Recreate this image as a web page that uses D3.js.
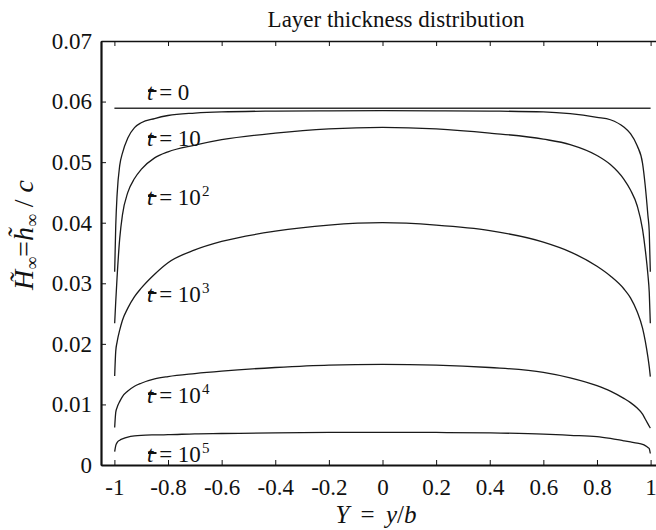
<!DOCTYPE html>
<html>
<head>
<meta charset="utf-8">
<script src="https://cdn.jsdelivr.net/npm/d3@7"></script>
<style>
  html, body { margin: 0; padding: 0; background: #fff; }
  svg { display: block; }
  svg text { font-family: "Liberation Serif", "DejaVu Serif", serif; }
</style>
</head>
<body>
<svg id="chart" width="656" height="530"></svg>
<script>
// Spanwise coordinate Y = y/b at which each thickness profile is sampled
const spanY = [-0.999, -0.995, -0.99, -0.98, -0.97, -0.95, -0.925, -0.9, -0.85, -0.8, -0.7, -0.6, -0.4, -0.2, 0,
               0.2, 0.4, 0.6, 0.7, 0.8, 0.85, 0.9, 0.925, 0.95, 0.97, 0.98, 0.99, 0.995, 0.999];

// Non-dimensional layer thickness H = h/c for each time t
const thicknessT10 = [0.0319, 0.0395, 0.0446, 0.0495, 0.0515, 0.0540, 0.0557, 0.0565, 0.0572, 0.0577, 0.0581, 0.0583, 0.05843, 0.05848, 0.0585,
                      0.05848, 0.05843, 0.0583, 0.0580, 0.0574, 0.0570, 0.0558, 0.0547, 0.0527, 0.0498, 0.0461, 0.0412, 0.0385, 0.0319];
const thicknessT1e2 = [0.0234, 0.0270, 0.0310, 0.0375, 0.0413, 0.0450, 0.0473, 0.0488, 0.0507, 0.0517, 0.0528, 0.0537, 0.0548, 0.0555, 0.05575,
                       0.0555, 0.0548, 0.0538, 0.0529, 0.0511, 0.0496, 0.0472, 0.0454, 0.0428, 0.0389, 0.0356, 0.0314, 0.0285, 0.0234];
const thicknessT1e3 = [0.0147, 0.0188, 0.0203, 0.0223, 0.0239, 0.0259, 0.0278, 0.0292, 0.0315, 0.0334, 0.0355, 0.0369, 0.0386, 0.0396, 0.0400,
                       0.0396, 0.0387, 0.0368, 0.0352, 0.0328, 0.0312, 0.0291, 0.0276, 0.0253, 0.0226, 0.0205, 0.0178, 0.0162, 0.0146];
const thicknessT1e4 = [0.0062, 0.0087, 0.0095, 0.0105, 0.0113, 0.0122, 0.0130, 0.0135, 0.0142, 0.0146, 0.0151, 0.0155, 0.0161, 0.0165, 0.0166,
                       0.0165, 0.0161, 0.0153, 0.0144, 0.0131, 0.0122, 0.0110, 0.0103, 0.0094, 0.0084, 0.0076, 0.0068, 0.0064, 0.0061];
const thicknessT1e5 = [0.0022, 0.0032, 0.0037, 0.0041, 0.0043, 0.0046, 0.0048, 0.0049, 0.00497, 0.0050, 0.00515, 0.0052, 0.0053, 0.00537, 0.0054,
                       0.00537, 0.0053, 0.0051, 0.0049, 0.0047, 0.0044, 0.0040, 0.0038, 0.0036, 0.0034, 0.0032, 0.0029, 0.0027, 0.0019];

// Initial (t = 0) uniform thickness across the full span
const initialSpan = [-1, 1];
const initialThickness = [0.0589, 0.0589];

// Curve labels: base text and power of ten (null = none)
const labelBase = ["0", "10", "10", "10", "10", "10"];
const labelExp = [null, null, "2", "3", "4", "5"];

// Axis ticks
const xTicks = [-1, -0.8, -0.6, -0.4, -0.2, 0, 0.2, 0.4, 0.6, 0.8, 1];
const xTickLabels = ["-1", "-0.8", "-0.6", "-0.4", "-0.2", "0", "0.2", "0.4", "0.6", "0.8", "1"];
const yTicks = [0, 0.01, 0.02, 0.03, 0.04, 0.05, 0.06, 0.07];
const yTickLabels = ["0", "0.01", "0.02", "0.03", "0.04", "0.05", "0.06", "0.07"];

const SERIF = "Liberation Serif";
const svg = d3.select("#chart");
const plotLeft = 101, plotRight = 664, plotTop = 41, plotBottom = 465;

const x = d3.scaleLinear().domain([-1.05, 1.05]).range([plotLeft, plotRight]);
const y = d3.scaleLinear().domain([0, 0.07]).range([plotBottom, plotTop]);

const FS = 23;

// Curves
const line = d3.line()
  .x(d => x(d[0]))
  .y(d => y(d[1]))
  .curve(d3.curveMonotoneX);

const profiles = [thicknessT10, thicknessT1e2, thicknessT1e3, thicknessT1e4, thicknessT1e5];
const curves = svg.append("g").attr("fill", "none").attr("stroke", "#1a1a1a").attr("stroke-width", 1.3);

curves.append("path")
  .attr("d", line(initialSpan.map((v, i) => [v, initialThickness[i]])))
  .attr("stroke", "#333");

profiles.forEach(vals => {
  curves.append("path").attr("d", line(spanY.map((v, i) => [v, vals[i]])));
});

// Axes
const gx = svg.append("g")
  .attr("transform", `translate(0,${plotBottom})`)
  .call(d3.axisBottom(x).tickValues(xTicks).tickFormat((d, i) => xTickLabels[i])
    .tickSizeInner(-5).tickSizeOuter(0).tickPadding(14));
const gxTop = svg.append("g")
  .attr("transform", `translate(0,${plotTop})`)
  .call(d3.axisTop(x).tickValues(xTicks).tickFormat("")
    .tickSizeInner(-5).tickSizeOuter(0));
const gy = svg.append("g")
  .attr("transform", `translate(${plotLeft},0)`)
  .call(d3.axisLeft(y).tickValues(yTicks).tickFormat((d, i) => yTickLabels[i])
    .tickSizeInner(-5).tickSizeOuter(0).tickPadding(9));

[gx, gxTop, gy].forEach(g => {
  g.attr("font-family", SERIF).attr("font-size", FS);
  g.selectAll("text").attr("font-family", SERIF).attr("font-size", FS).attr("fill", "#111");
  g.selectAll("line").attr("stroke", "#111").attr("stroke-width", 1);
});
gx.select(".domain").attr("stroke", "#111").attr("stroke-width", 2);
gy.select(".domain").attr("stroke", "#111").attr("stroke-width", 2.2);
gxTop.select(".domain").attr("stroke", "#111").attr("stroke-width", 1.5);

// Title
svg.append("text")
  .attr("x", 396).attr("y", 27)
  .attr("text-anchor", "middle")
  .attr("font-family", SERIF)
  .attr("font-size", FS).attr("fill", "#111")
  .text("Layer thickness distribution");

// X axis label
const xl = svg.append("text")
  .attr("x", 376).attr("y", 523)
  .attr("text-anchor", "middle")
  .attr("font-family", SERIF)
  .attr("font-size", 25).attr("fill", "#111")
  .attr("word-spacing", 5);
xl.append("tspan").attr("font-style", "italic").text("Y");
xl.append("tspan").text(" = ");
xl.append("tspan").attr("font-style", "italic").text("y");
xl.append("tspan").text("/");
xl.append("tspan").attr("font-style", "italic").text("b");

// Y axis label
const yl = svg.append("text")
  .attr("transform", "translate(33,235) rotate(-90)")
  .attr("text-anchor", "middle")
  .attr("font-family", SERIF)
  .attr("font-size", 28).attr("fill", "#111");
yl.append("tspan").attr("font-style", "italic").text("H\u0303");
yl.append("tspan").attr("font-size", 18).attr("dy", 5).text("\u221e");
yl.append("tspan").attr("dy", -5).text("=");
yl.append("tspan").attr("font-style", "italic").text("h\u0303");
yl.append("tspan").attr("font-size", 18).attr("dy", 5).text("\u221e");
yl.append("tspan").attr("dy", -5).text(" / ");
yl.append("tspan").attr("font-style", "italic").text("c");

// Curve labels with barred t
const labelX = 147;
const labelBaselines = [100, 146, 205, 302, 403, 462];
const labels = svg.append("g").attr("font-family", SERIF).attr("font-size", FS).attr("fill", "#111");
labelBase.forEach((b, i) => {
  const by = labelBaselines[i];
  const t = labels.append("text").attr("x", labelX).attr("y", by);
  t.append("tspan").attr("font-style", "italic").text("t");
  t.append("tspan").text(" = " + b);
  if (labelExp[i]) {
    t.append("tspan").attr("font-size", 15).attr("dy", -9).attr("dx", 1).text(labelExp[i]);
  }
  labels.append("line")
    .attr("x1", labelX + 1).attr("x2", labelX + 9.5)
    .attr("y1", by - 9).attr("y2", by - 9)
    .attr("stroke", "#111").attr("stroke-width", 2);
});
</script>
</body>
</html>
